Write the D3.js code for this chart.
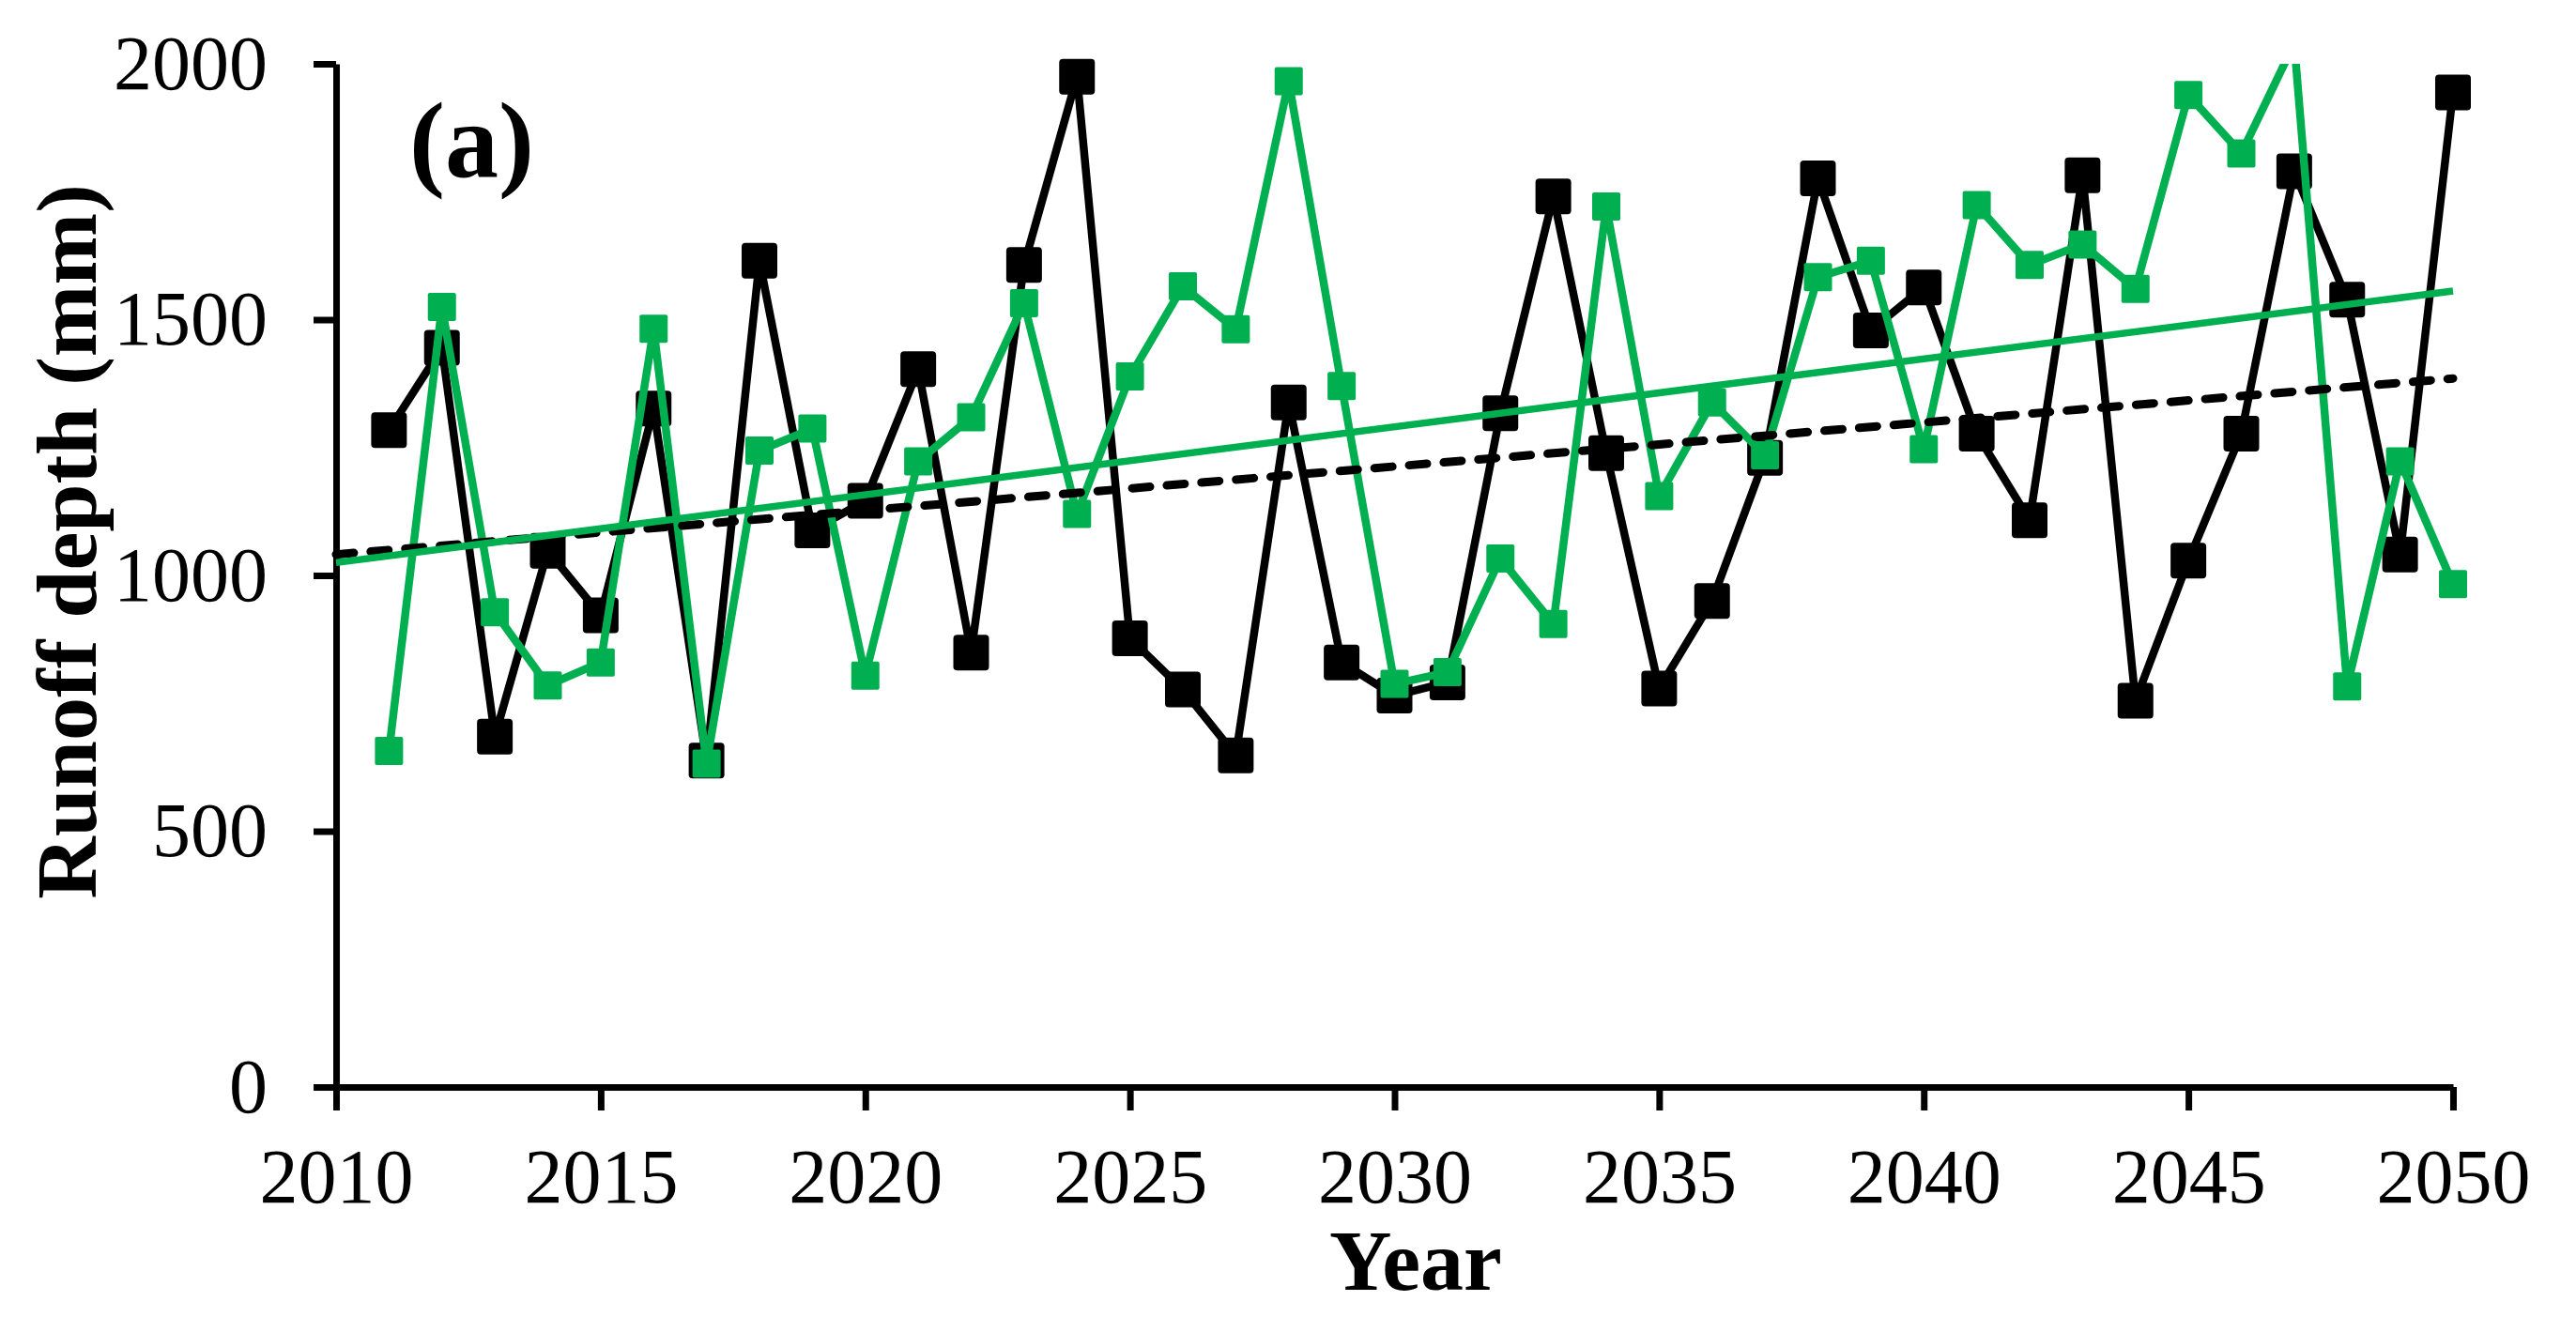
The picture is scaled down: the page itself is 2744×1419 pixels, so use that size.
<!DOCTYPE html>
<html>
<head>
<meta charset="utf-8">
<script src="https://cdn.jsdelivr.net/npm/d3@7"></script>
<style>
  body { margin: 0; background: #fff; }
  text { font-family: "Liberation Serif", "Times New Roman", serif; }
</style>
</head>
<body>
<div id="chart"></div>
<script>
// years 2011-2050
var years = d3.range(2011, 2051);

// black series (squares)
var blackRunoff = [1284, 1445, 685, 1048, 922, 1326, 638, 1615, 1088, 1146,
                   1403, 849, 1607, 1975, 877, 777, 648, 1338, 830, 765,
                   791, 1317, 1741, 1239, 779, 950, 1230, 1776, 1479, 1563,
                   1277, 1108, 1782, 755, 1029, 1277, 1790, 1539, 1041, 1944];

// green series
var greenRunoff = [657, 1525, 928, 785, 830, 1482, 632, 1244, 1287, 804,
                   1223, 1309, 1532, 1120, 1389, 1565, 1481, 1966, 1370, 788,
                   811, 1033, 905, 1721, 1155, 1338, 1235, 1583, 1615, 1247,
                   1724, 1607, 1647, 1560, 1939, 1825, 2040, 783, 1223, 983];

// linear trend lines, values at 2010 and 2050
var trendYears = [2010, 2050];
var blackTrend = [1041, 1385];
var greenTrend = [1025, 1556];

var xTicks = [2010, 2015, 2020, 2025, 2030, 2035, 2040, 2045, 2050];
var yTicks = [0, 500, 1000, 1500, 2000];

var svgWidth = 2744;
var svgHeight = 1419;
var margin = { top: 68, right: 131, bottom: 261, left: 358 };
var width = svgWidth - margin.left - margin.right;
var height = svgHeight - margin.top - margin.bottom;

var green = "#00b050";

var svg = d3.select("#chart")
    .append("svg")
    .attr("width", svgWidth)
    .attr("height", svgHeight);

svg.append("rect").attr("width", svgWidth).attr("height", svgHeight).attr("fill", "#fff");

svg.append("defs").append("clipPath")
    .attr("id", "plotclip")
    .append("rect")
    .attr("x", -10)
    .attr("y", 0)
    .attr("width", width + 20)
    .attr("height", height + 10);

var chartGroup = svg.append("g")
    .attr("transform", `translate(${margin.left}, ${margin.top})`);

var x = d3.scaleLinear().domain([2010, 2050]).range([0, width]);
var y = d3.scaleLinear().domain([0, 2000]).range([height, 0]);

// axes
var yAxis = d3.axisLeft(y).tickValues(yTicks).tickFormat(d3.format("d"))
    .tickSize(24).tickSizeOuter(0).tickPadding(49);
var xAxis = d3.axisBottom(x).tickValues(xTicks).tickFormat(d3.format("d"))
    .tickSize(25).tickSizeOuter(0).tickPadding(40);

var gy = chartGroup.append("g").call(yAxis);
var gx = chartGroup.append("g").attr("transform", `translate(0, ${height})`).call(xAxis);

[gx, gy].forEach(function(g) {
    g.selectAll("path, line").attr("stroke", "#000").attr("stroke-width", 7);
    g.selectAll("text")
        .attr("fill", "#000")
        .style("font-size", "82px")
        .style("font-family", "'Liberation Serif', serif");
});

var line = d3.line()
    .x(function(d, i) { return x(years[i]); })
    .y(function(d) { return y(d); });

var plot = chartGroup.append("g");

// black series
plot.append("path")
    .datum(blackRunoff)
    .attr("clip-path", "url(#plotclip)")
    .attr("fill", "none")
    .attr("stroke", "#000")
    .attr("stroke-width", 8.5)
    .attr("d", line);

plot.selectAll(".bm")
    .data(blackRunoff)
    .enter()
    .append("rect")
    .attr("class", "bm")
    .attr("x", function(d, i) { return x(years[i]) - 19; })
    .attr("y", function(d) { return y(d) - 19; })
    .attr("width", 38)
    .attr("height", 38)
    .attr("rx", 4)
    .attr("fill", "#000")
    .style("display", function(d) { return d > 2000 ? "none" : null; });

// green series
plot.append("path")
    .datum(greenRunoff)
    .attr("clip-path", "url(#plotclip)")
    .attr("fill", "none")
    .attr("stroke", green)
    .attr("stroke-width", 8.5)
    .attr("d", line);

plot.selectAll(".gm")
    .data(greenRunoff)
    .enter()
    .append("rect")
    .attr("class", "gm")
    .attr("x", function(d, i) { return x(years[i]) - 15; })
    .attr("y", function(d) { return y(d) - 15; })
    .attr("width", 30)
    .attr("height", 30)
    .attr("rx", 2)
    .attr("fill", green)
    .style("display", function(d) { return d > 2000 ? "none" : null; });

// trend lines
var trendLine = d3.line()
    .x(function(d, i) { return x(trendYears[i]); })
    .y(function(d) { return y(d); });

plot.append("path")
    .datum(blackTrend)
    .attr("fill", "none")
    .attr("stroke", "#000")
    .attr("stroke-width", 9)
    .attr("stroke-linecap", "round")
    .attr("stroke-dasharray", "19 18")
    .attr("d", trendLine);

plot.append("path")
    .datum(greenTrend)
    .attr("fill", "none")
    .attr("stroke", green)
    .attr("stroke-width", 7.5)
    .attr("d", trendLine);

// labels
svg.append("text")
    .attr("x", 436)
    .attr("y", 188)
    .attr("font-weight", "bold")
    .style("font-size", "114px")
    .text("(a)");

svg.append("text")
    .attr("transform", "translate(102, 577) rotate(-90)")
    .attr("text-anchor", "middle")
    .attr("font-weight", "bold")
    .style("font-size", "92px")
    .text("Runoff depth (mm)");

svg.append("text")
    .attr("x", 1508)
    .attr("y", 1374)
    .attr("text-anchor", "middle")
    .attr("font-weight", "bold")
    .style("font-size", "92px")
    .text("Year");
</script>
</body>
</html>
